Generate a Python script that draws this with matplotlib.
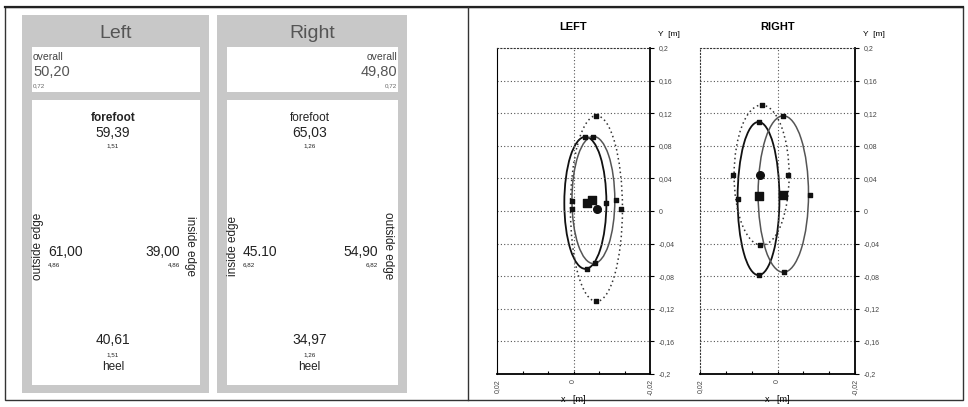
import numpy as np
import matplotlib.pyplot as plt
from matplotlib.patches import Rectangle, Ellipse

plt.rcParams['font.family'] = ['Liberation Sans', 'DejaVu Sans']

# pressure distribution values (left / right foot)
left_vals = {'overall': ('50,20', '0,72'), 'forefoot': ('59,39', '1,51'),
             'outside': ('61,00', '4,86'), 'inside': ('39,00', '4,86'),
             'heel': ('40,61', '1,51')}
right_vals = {'overall': ('49,80', '0,72'), 'forefoot': ('65,03', '1,26'),
              'inside': ('45.10', '6,82'), 'outside': ('54,90', '6,82'),
              'heel': ('34,97', '1,26')}

# ellipses: centre x, centre y, half width, half height
left_ell_x = [-0.0031, -0.0052, -0.0060]
left_ell_y = [0.0100, 0.0135, 0.0030]
left_ell_a = [0.0055, 0.0056, 0.0068]
left_ell_b = [0.081, 0.078, 0.114]
right_ell_x = [0.0049, -0.0015, 0.0041]
right_ell_y = [0.0153, 0.0208, 0.0440]
right_ell_a = [0.0054, 0.0065, 0.0071]
right_ell_b = [0.094, 0.096, 0.086]

# marked points
left_ctr_x = [-0.0034, -0.0049, -0.0062]
left_ctr_y = [0.0104, 0.0129, 0.0030]
left_pts_x = [0.0005, 0.0005, -0.0086, -0.0112, -0.0125, -0.0031, -0.0052, -0.0060, -0.0034, -0.0055, -0.0060]
left_pts_y = [0.0117, 0.0030, 0.0104, 0.0129, 0.0030, 0.091, 0.091, 0.117, -0.0715, -0.064, -0.111]
right_ctr_x = [0.0049, -0.0015, 0.0044]
right_ctr_y = [0.0178, 0.0200, 0.0447]
right_pts_x = [0.0114, 0.0101, -0.0028, -0.0085, 0.0044, 0.0049, -0.0015, 0.0041, 0.0049, -0.0018]
right_pts_y = [0.0447, 0.0153, 0.0447, 0.0200, -0.042, 0.1095, 0.117, 0.130, -0.079, -0.075]

y_ticks = [0.2, 0.16, 0.12, 0.08, 0.04, 0, -0.04, -0.08, -0.12, -0.16, -0.2]
x_ticks = [0.02, 0, -0.02]

W, H = 968, 407
fig = plt.figure(figsize=(W / 100, H / 100), dpi=100)
bg = fig.add_axes([0, 0, 1, 1])
bg.set_xlim(0, W)
bg.set_ylim(H, 0)
bg.axis('off')

# outer frame + divider
bg.add_patch(Rectangle((5, 7), 958, 393, fill=False, ec='#333333', lw=1))
bg.plot([5, 963], [7, 7], color='#222222', lw=1.6)
bg.plot([468, 468], [7, 400], color='#333333', lw=1)

gray = '#c8c8c8'
txt = '#222222'


def foot_box(x0, x1, title, vals, mirror):
    bg.add_patch(Rectangle((x0, 15), x1 - x0, 378, color=gray, lw=0))
    bg.add_patch(Rectangle((x0 + 10, 47), x1 - x0 - 19, 45, color='white', lw=0))
    bg.add_patch(Rectangle((x0 + 10, 100), x1 - x0 - 19, 285, color='white', lw=0))
    wl, wr = x0 + 10, x1 - 9
    cx = (wl + wr) / 2
    bg.text(cx, 33, title, ha='center', va='center', fontsize=14, color='#555555')
    ov, ovs = vals['overall']
    if not mirror:
        bg.text(wl + 1, 57, 'overall', ha='left', va='center', fontsize=7.5, color='#444444')
        bg.text(wl + 1, 72, ov, ha='left', va='center', fontsize=10.5, color='#555555')
        bg.text(wl + 1, 86, ovs, ha='left', va='center', fontsize=4.5, color='#666666')
    else:
        bg.text(wr - 1, 57, 'overall', ha='right', va='center', fontsize=7.5, color='#444444')
        bg.text(wr - 1, 72, ov, ha='right', va='center', fontsize=10.5, color='#555555')
        bg.text(wr - 1, 86, ovs, ha='right', va='center', fontsize=4.5, color='#666666')
    ff, ffs = vals['forefoot']
    bg.text(cx - 3, 118, 'forefoot', ha='center', va='center', fontsize=8.5,
            fontweight='bold' if not mirror else 'normal', color=txt)
    bg.text(cx - 3, 133, ff, ha='center', va='center', fontsize=10, color=txt)
    bg.text(cx - 3, 146, ffs, ha='center', va='center', fontsize=4.5, color=txt)
    hl, hls = vals['heel']
    bg.text(cx - 3, 340, hl, ha='center', va='center', fontsize=10, color=txt)
    bg.text(cx - 3, 355, hls, ha='center', va='center', fontsize=4.5, color=txt)
    bg.text(cx - 3, 367, 'heel', ha='center', va='center', fontsize=8.5, color=txt)
    lkey, rkey = ('inside', 'outside') if mirror else ('outside', 'inside')
    lv, lvs = vals[lkey]
    rv, rvs = vals[rkey]
    bg.text(wl + 6, 246, lkey + ' edge', ha='center', va='center', rotation=90,
            fontsize=8.5, color=txt)
    bg.text(wl + 16, 252, lv, ha='left', va='center', fontsize=10, color=txt)
    bg.text(wl + 16, 265, lvs, ha='left', va='center', fontsize=4.5, color=txt)
    bg.text(wr - 10, 246, rkey + ' edge', ha='center', va='center', rotation=-90,
            fontsize=8.5, color=txt)
    bg.text(wr - 20, 252, rv, ha='right', va='center', fontsize=10, color=txt)
    bg.text(wr - 20, 265, rvs, ha='right', va='center', fontsize=4.5, color=txt)


foot_box(22, 209, 'Left', left_vals, False)
foot_box(217, 407, 'Right', right_vals, True)


def fmt(v):
    if v == 0:
        return '0'
    return ('%g' % v).replace('.', ',')


def ell_chart(px0, px1, title, ex, ey, ea, eb, cxs, cys, pxs, pys, left_dotted):
    top, bot = 48, 374
    ax = fig.add_axes([px0 / W, 1 - bot / H, (px1 - px0) / W, (bot - top) / H])
    ax.set_xlim(0.02, -0.02)
    ax.set_ylim(-0.2, 0.2)
    for yv in y_ticks[1:-1]:
        ax.axhline(yv, color='#555555', ls=(0, (1, 2)), lw=0.8)
    ax.axvline(0, color='#555555', ls=(0, (1, 2)), lw=0.8)
    styles = [dict(ec='#111111', ls='-', lw=1.3),
              dict(ec='#555555', ls='-', lw=1.1),
              dict(ec='#333333', ls=(0, (1, 2)), lw=1.1)]
    marks = ['s', 's', 'o']
    for i in range(len(ex)):
        ax.add_patch(Ellipse((ex[i], ey[i]), 2 * ea[i], 2 * eb[i], fill=False, **styles[i]))
        ax.scatter([cxs[i]], [cys[i]], marker=marks[i], s=30, color='#111111', zorder=5)
    ax.scatter(pxs, pys, marker='s', s=8, color='#111111', zorder=5)
    ax.yaxis.tick_right()
    ax.set_yticks(y_ticks)
    ax.set_yticklabels([fmt(v) for v in y_ticks], fontsize=5, color='#444444')
    ax.set_xticks(x_ticks)
    ax.set_xticklabels([fmt(v) for v in x_ticks], fontsize=5, rotation=90, color='#444444')
    ax.set_xticks(np.linspace(-0.02, 0.02, 7), minor=True)
    ax.tick_params(axis='y', length=3, width=0.8, pad=3)
    ax.tick_params(axis='x', which='both', direction='in', length=2, width=0.8)
    ax.spines['top'].set_linestyle((0, (1, 2)))
    ax.spines['top'].set_color('#333333')
    if left_dotted:
        ax.spines['left'].set_linestyle((0, (1, 2)))
        ax.spines['left'].set_color('#333333')
    for s in ['bottom', 'right']:
        ax.spines[s].set_linewidth(1.3)
    ax.set_title(title, fontsize=8, fontweight='bold', pad=13)
    ax.text(1.05, 1.03, 'Y  [m]', transform=ax.transAxes, fontsize=6, ha='left', va='bottom')
    ax.set_xlabel('x   [m]', fontsize=6.5, labelpad=0)
    return ax


ell_chart(497, 650, 'LEFT', left_ell_x, left_ell_y, left_ell_a, left_ell_b,
          left_ctr_x, left_ctr_y, left_pts_x, left_pts_y, False)
ell_chart(700, 855, 'RIGHT', right_ell_x, right_ell_y, right_ell_a, right_ell_b,
          right_ctr_x, right_ctr_y, right_pts_x, right_pts_y, True)

fig.savefig('out.png', dpi=100)
